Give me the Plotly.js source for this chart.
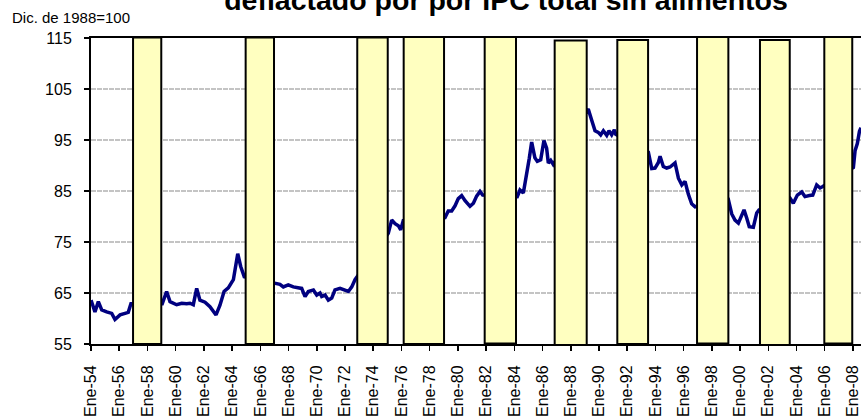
<!DOCTYPE html>
<html>
<head>
<meta charset="utf-8">
<script src="https://cdn.plot.ly/plotly-3.0.1.min.js"></script>
<style>html,body{margin:0;padding:0;background:#fff;}#chart{width:861px;height:419px;}</style>
</head>
<body>
<div id="chart"></div>
<script>
// Monthly series (decimal years)
const years = [
1954.00,1954.28,1954.52,1954.76,1955.11,1955.47,1955.70,1956.06,1956.41,1956.64,1956.83,
1959.05,1959.36,1959.60,1960.07,1960.43,1960.78,1961.02,1961.25,1961.49,1961.72,1962.08,1962.43,1962.86,1963.14,1963.43,1963.73,1964.09,1964.40,1964.61,1964.86,
1967.04,1967.39,1967.63,1967.98,1968.34,1968.93,1969.17,1969.40,1969.76,1970.00,1970.23,1970.35,1970.59,1970.82,1971.06,1971.29,1971.65,1972.00,1972.24,1972.48,1972.71,
1975.07,1975.31,1975.55,1975.78,1975.95,1976.13,
1979.09,1979.32,1979.56,1979.80,1980.03,1980.27,1980.51,1980.86,1981.10,1981.33,1981.57,1981.76,
1984.21,1984.40,1984.64,1984.83,1985.06,1985.23,1985.46,1985.63,1985.87,1986.10,1986.29,1986.41,1986.58,1986.76,
1989.24,1989.49,1989.72,1989.95,1990.12,1990.31,1990.55,1990.71,1990.90,1991.09,1991.19,
1993.50,1993.74,1993.97,1994.21,1994.33,1994.56,1994.80,1995.04,1995.39,1995.63,1995.87,1996.10,1996.33,1996.57,1996.81,
1999.17,1999.41,1999.64,1999.88,2000.12,2000.28,2000.47,2000.65,2000.94,2001.18,2001.34,
2003.54,2003.77,2004.06,2004.37,2004.60,2004.91,2005.15,2005.43,2005.67,2005.86,
2008.03,2008.15,2008.31,2008.46,2008.57
];
const values = [
63.6,61.3,63.3,61.7,61.3,61.0,59.8,60.7,61.0,61.2,62.9,
62.9,65.3,63.3,62.7,63.0,62.9,63.0,62.7,65.9,63.6,63.2,62.3,60.7,62.6,65.3,66.0,67.6,72.7,70.2,68.2,
66.9,66.7,66.2,66.6,66.2,65.9,64.3,65.3,65.6,64.6,65.0,64.3,64.6,63.6,64.0,65.6,65.9,65.6,65.3,66.2,67.6,
76.7,79.3,78.6,78.2,77.4,79.2,
79.8,81.1,81.1,82.1,83.5,84.1,83.1,82.0,82.6,84.0,84.9,84.2,
83.9,85.2,84.6,87.5,91.4,94.6,91.5,90.8,91.1,94.9,93.4,90.5,91.0,90.2,
101.1,98.8,96.8,96.5,96.0,96.8,95.9,96.8,96.0,97.0,96.1,
92.6,89.4,89.5,90.6,91.8,89.8,89.5,89.7,90.5,87.5,86.2,86.9,84.4,82.5,81.9,
83.3,80.5,79.3,78.7,80.3,81.3,79.7,78.0,77.9,80.7,81.3,
83.6,82.6,84.2,84.8,83.9,84.1,84.2,86.2,85.6,85.9,
89.6,92.9,94.3,96.7,97.4
];
// Shaded periods (yellow columns)
const periodStart = [1956.98,1964.96,1972.87,1976.16,1981.90,1986.86,1991.30,1996.95,2001.41,2005.97];
const periodEnd   = [1958.98,1966.97,1975.03,1979.02,1984.12,1989.13,1993.48,1999.17,2003.52,2007.95];
const periodTop   = [115.1,115.1,115.1,115.3,115.2,114.5,114.6,115.7,114.6,115.2];
const periodBottom= [55.0,55.0,55.0,55.0,55.1,54.7,55.0,55.1,54.7,55.1];
// Tick labels
const tickYears = [1954,1956,1958,1960,1962,1964,1966,1968,1970,1972,1974,1976,1978,1980,1982,1984,1986,1988,1990,1992,1994,1996,1998,2000,2002,2004,2006,2008];
const tickLabels = ["Ene-54","Ene-56","Ene-58","Ene-60","Ene-62","Ene-64","Ene-66","Ene-68","Ene-70","Ene-72","Ene-74","Ene-76","Ene-78","Ene-80","Ene-82","Ene-84","Ene-86","Ene-88","Ene-90","Ene-92","Ene-94","Ene-96","Ene-98","Ene-00","Ene-02","Ene-04","Ene-06","Ene-08"];
const yTicks = [55,65,75,85,95,105,115];

const FONT = "Arial, 'Liberation Sans', sans-serif";
const xRange = [1954, 2008.57];
const yRange = [55, 115];

const lineTrace = {
  type: 'scatter', mode: 'lines', x: years, y: values,
  line: {color: '#000080', width: 3.5}, hoverinfo: 'skip', xaxis: 'x', yaxis: 'y'
};
const barTrace = {
  type: 'bar',
  x: periodStart.map((s, i) => (s + periodEnd[i]) / 2),
  width: periodStart.map((s, i) => periodEnd[i] - s),
  base: periodBottom,
  y: periodTop.map((t, i) => t - periodBottom[i]),
  marker: {color: '#FFFFC0', line: {color: '#000000', width: 2}},
  cliponaxis: false, hoverinfo: 'skip', xaxis: 'x2', yaxis: 'y2'
};

const layout = {
  width: 861, height: 419,
  margin: {l: 91, r: 0, t: 38, b: 75, pad: 0},
  paper_bgcolor: '#ffffff', plot_bgcolor: '#ffffff',
  showlegend: false,
  font: {family: FONT, color: '#000'},
  title: {
    text: '<b>deflactado por por IPC total sin alimentos</b>',
    font: {family: FONT, size: 28.5, color: '#000'},
    x: 506/861, xanchor: 'center', xref: 'container',
    y: 0.9999, yanchor: 'middle', yref: 'container'
  },
  xaxis: {
    range: xRange, tickmode: 'array', tickvals: tickYears, ticktext: tickLabels,
    tickangle: -90, ticks: 'outside', ticklen: 5, tickwidth: 1.5, tickcolor: '#000',
    tickfont: {family: FONT, size: 16, color: '#000'},
    ticklabelstandoff: 8, ticklabeloverflow: 'allow',
    showline: true, linecolor: '#000', linewidth: 2, mirror: true,
    showgrid: false, zeroline: false, fixedrange: true
  },
  yaxis: {
    range: yRange, tickmode: 'array', tickvals: yTicks,
    ticks: 'outside', ticklen: 5, tickwidth: 1.5, tickcolor: '#000',
    tickfont: {family: FONT, size: 16, color: '#000'},
    ticklabelstandoff: 9,
    showline: true, linecolor: '#000', linewidth: 2,
    showgrid: true, gridcolor: '#C4C4C4', gridwidth: 2, griddash: '5px,1px',
    zeroline: false, fixedrange: true
  },
  xaxis2: {range: xRange, overlaying: 'x', visible: false, fixedrange: true},
  yaxis2: {range: yRange, overlaying: 'y', visible: false, fixedrange: true},
  annotations: [{
    text: 'Dic. de 1988=100', xref: 'paper', yref: 'paper',
    x: -81/770, xanchor: 'left', y: (344 - 17)/306, yanchor: 'middle',
    showarrow: false, font: {family: FONT, size: 15, color: '#000'}
  }]
};

Plotly.newPlot('chart', [lineTrace, barTrace], layout, {displayModeBar: false, staticPlot: true});
</script>
</body>
</html>
